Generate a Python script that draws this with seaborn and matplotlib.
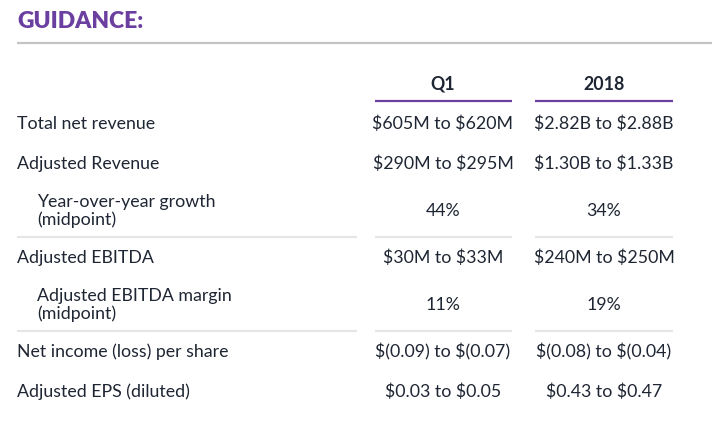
import matplotlib
matplotlib.use("Agg")
import matplotlib.pyplot as plt
import seaborn as sns

title = "GUIDANCE:"
columns = ["Q1", "2018"]
row_labels = [
    "Total net revenue",
    "Adjusted Revenue",
    "Year-over-year growth\n(midpoint)",
    "Adjusted EBITDA",
    "Adjusted EBITDA margin\n(midpoint)",
    "Net income (loss) per share",
    "Adjusted EPS (diluted)",
]
q1_values = [
    "$605M to $620M",
    "$290M to $295M",
    "44%",
    "$30M to $33M",
    "11%",
    "$(0.09) to $(0.07)",
    "$0.03 to $0.05",
]
fy_values = [
    "$2.82B to $2.88B",
    "$1.30B to $1.33B",
    "34%",
    "$240M to $250M",
    "19%",
    "$(0.08) to $(0.04)",
    "$0.43 to $0.47",
]
indented = [False, False, True, False, True, False, False]
rule_after = [False, False, True, False, True, False, False]

sns.set_theme(style="white")
plt.rcParams["font.family"] = ["Lato", "DejaVu Sans"]
plt.rcParams["text.parse_math"] = False

purple = "#6b3fa0"
ink = "#1f2633"
rule = "#e6e6e6"
fs = 12.8

fig = plt.figure(figsize=(7.24, 4.23), dpi=100)
ax = fig.add_axes([0, 0, 1, 1])
ax.set_xlim(0, 724)
ax.set_ylim(423, 0)
ax.axis("off")

# header
ax.text(17, 21, title, color=purple, fontsize=16.5, fontweight="heavy",
        va="center", ha="left")
ax.hlines(43, 17, 712, color="#c4c4c4", lw=1.6)

col_x = [443, 604]
col_span = [(375, 512), (535, 673)]
for name, cx, (x0, x1) in zip(columns, col_x, col_span):
    ax.text(cx, 84, name, color=ink, fontsize=fs, fontweight="bold",
            ha="center", va="center")
    ax.hlines(101, x0, x1, color=purple, lw=1.6)

# rows (two-line rows get a bit more room)
y = 124
for i, label in enumerate(row_labels):
    two = "\n" in label
    if i > 0:
        prev_two = "\n" in row_labels[i - 1]
        step = 40
        if two or prev_two:
            step = 47
        y += step
    lx = 37 if indented[i] else 17
    ax.text(lx, y, label, color=ink, fontsize=fs, ha="left", va="center",
            linespacing=1.1)
    ax.text(col_x[0], y, q1_values[i], color=ink, fontsize=fs,
            ha="center", va="center")
    ax.text(col_x[1], y, fy_values[i], color=ink, fontsize=fs,
            ha="center", va="center")
    if rule_after[i]:
        ry = y + 26
        ax.hlines(ry, 17, 357, color=rule, lw=1.6)
        for x0, x1 in col_span:
            ax.hlines(ry, x0, x1, color=rule, lw=1.6)

fig.savefig("out.png", dpi=100, facecolor="white")
